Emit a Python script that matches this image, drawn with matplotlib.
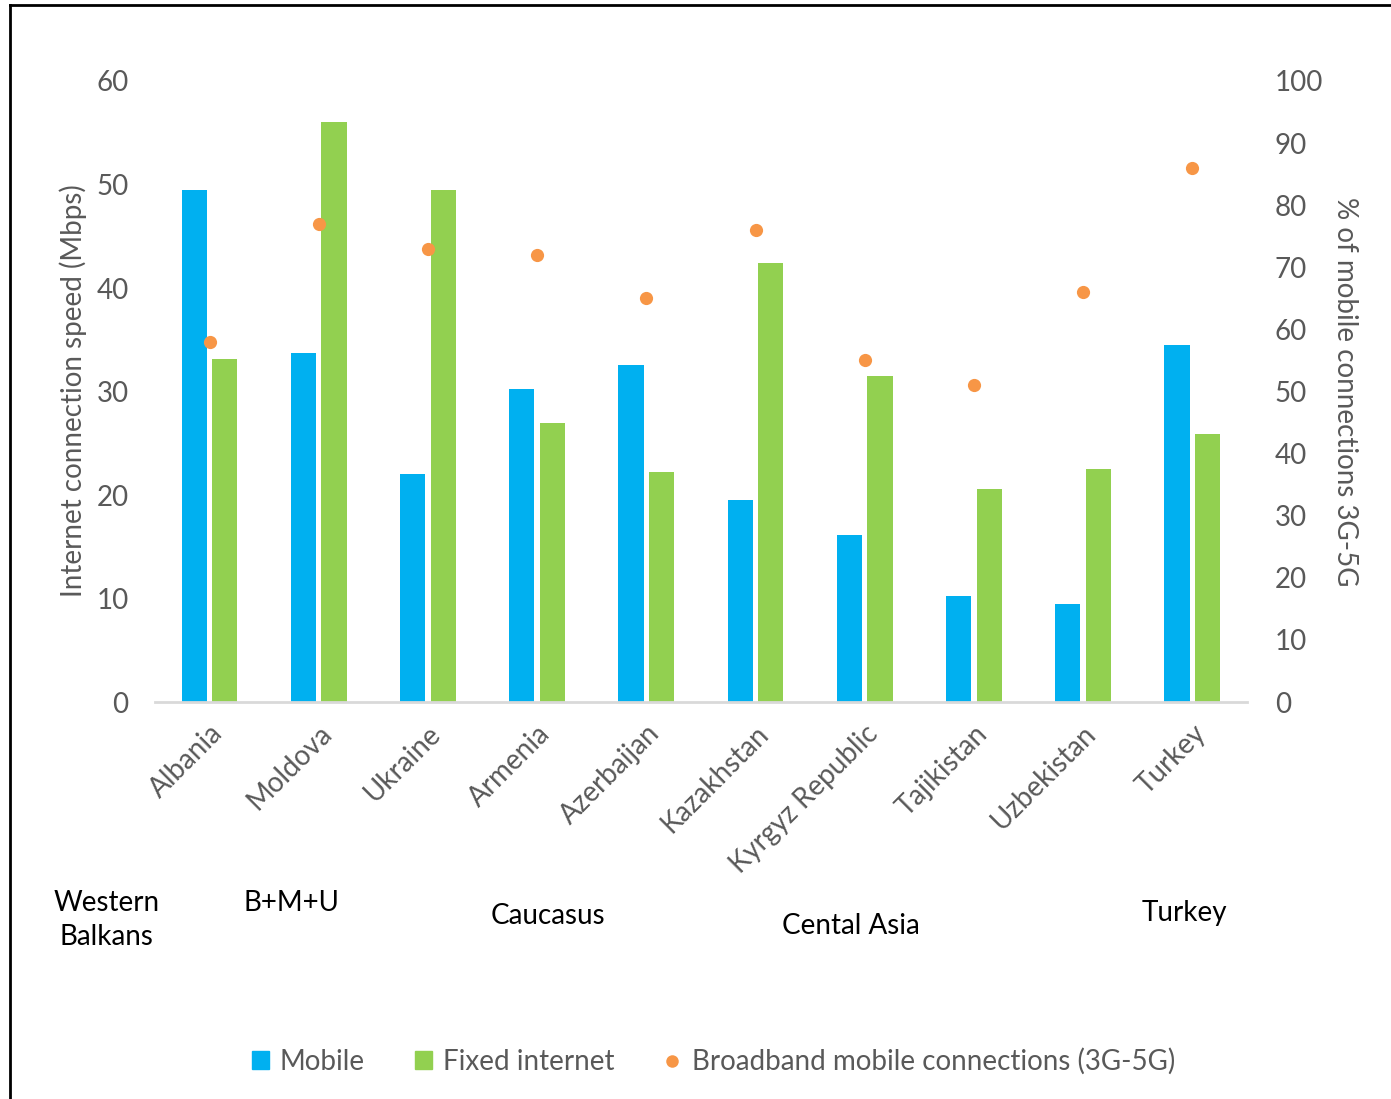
import numpy as np
import matplotlib
matplotlib.use("Agg")
import matplotlib.pyplot as plt
import matplotlib.transforms as mtrans
from matplotlib.lines import Line2D
from matplotlib.patches import Patch

plt.rcParams['font.family'] = ['Lato', 'DejaVu Sans']

countries = ["Albania", "Moldova", "Ukraine", "Armenia", "Azerbaijan",
             "Kazakhstan", "Kyrgyz Republic", "Tajikistan", "Uzbekistan", "Turkey"]
mobile = [49.5, 33.7, 22.0, 30.2, 32.6, 19.5, 16.1, 10.2, 9.5, 34.5]
fixed = [33.1, 56.0, 49.5, 27.0, 22.2, 42.4, 31.5, 20.6, 22.5, 25.9]
broadband = [58, 77, 73, 72, 65, 76, 55, 51, 66, 86]

# region labels under the axis: (text, x in category units, y in figure fraction)
regions = [("Western\nBalkans", -0.94, 0.163), ("B+M+U", 0.75, 0.178),
           ("Caucasus", 3.1, 0.1665), ("Cental Asia", 5.87, 0.157),
           ("Turkey", 8.93, 0.169)]

blue = "#00B0F0"
green = "#92D050"
orange = "#F79646"
gray = "#595959"
fs = 20

fig = plt.figure(figsize=(13.91, 10.99), dpi=100)
ax = fig.add_axes([0.1114, 0.3612, 0.785, 0.5651])
ax2 = ax.twinx()

x = np.arange(len(countries))
w = 0.23
ax.bar(x - 0.14, mobile, w, color=blue)
ax.bar(x + 0.14, fixed, w, color=green)
ax2.plot(x, broadband, 'o', color=orange, markersize=9.5, markeredgewidth=0)

ax.set_xlim(-0.5, len(countries) - 0.5)
ax.set_ylim(0, 60)
ax2.set_ylim(0, 100)
ax.set_yticks(range(0, 61, 10))
ax2.set_yticks(range(0, 101, 10))

ax.set_xticks(x)
ax.set_xticklabels(countries, rotation=45, ha='right', rotation_mode='anchor',
                   fontsize=fs, color=gray)
ax.tick_params(axis='x', length=0, pad=13)
ax.tick_params(axis='y', length=0, labelsize=fs, labelcolor=gray, pad=19)
ax2.tick_params(axis='y', length=0, labelsize=fs, labelcolor=gray, pad=20)

for a in (ax, ax2):
    for s in a.spines.values():
        s.set_visible(False)
ax.spines['bottom'].set_visible(True)
ax.spines['bottom'].set_color("#D9D9D9")
ax.spines['bottom'].set_linewidth(2)

ax.set_ylabel("Internet connection speed (Mbps)", fontsize=fs, color=gray, va='center')
ax.yaxis.set_label_coords(-0.0751, 0.502)
ax2.set_ylabel("% of mobile connections 3G-5G", fontsize=fs, color=gray,
               rotation=-90, va='center')
ax2.yaxis.set_label_coords(1.0897, 0.5)

tr = mtrans.blended_transform_factory(ax.transData, fig.transFigure)
for txt, xc, yf in regions:
    ax.text(xc, yf, txt, transform=tr, fontsize=fs, color="black",
            ha='center', va='center', linespacing=1.35, clip_on=False)

handles = [Patch(color=blue, label="Mobile"),
           Patch(color=green, label="Fixed internet"),
           Line2D([], [], marker='o', linestyle='', color=orange, markersize=9,
                  markeredgewidth=0, label="Broadband mobile connections (3G-5G)")]
fig.legend(handles=handles, loc='center', bbox_to_anchor=(0.513, 0.034), ncol=3,
           frameon=False, fontsize=fs, labelcolor=gray, handlelength=0.6,
           handleheight=0.6, handletextpad=0.4, columnspacing=1.8)

# frame lines (top and left only visible)
fig.add_artist(Line2D([0.0072, 1], [0.9955, 0.9955], transform=fig.transFigure,
                      color='black', linewidth=2))
fig.add_artist(Line2D([0.0072, 0.0072], [0, 0.9955], transform=fig.transFigure,
                      color='black', linewidth=2))

fig.savefig("out.png", dpi=100)
